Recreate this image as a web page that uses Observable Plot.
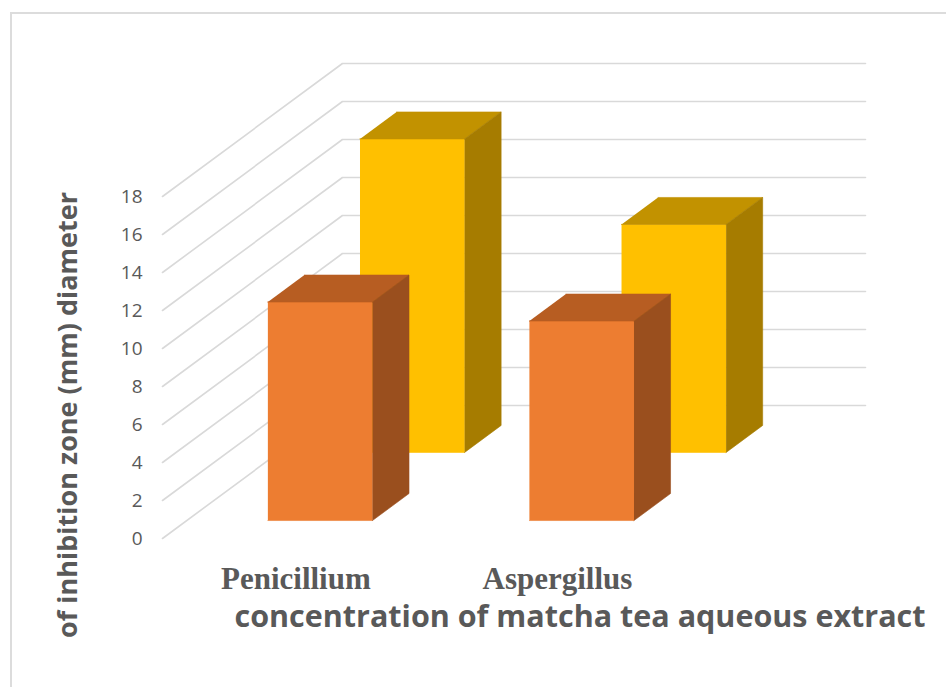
<!DOCTYPE html>
<html><head><meta charset="utf-8">
<script src="https://cdn.jsdelivr.net/npm/d3@7"></script>
<script src="https://cdn.jsdelivr.net/npm/@observablehq/plot@0.6"></script>
<style>
body{margin:0;background:#fff;}
#wrap{position:relative;width:946px;height:687px;overflow:hidden;}
#border{position:absolute;left:10px;top:12px;width:1000px;height:800px;border:2px solid #dcdcdc;box-sizing:border-box;}
#chart{position:absolute;left:0;top:0;}
</style>
</head><body>
<div id="wrap"><div id="border"></div><div id="chart"></div></div>
<script>
// ---- data ----
const categories = ["Penicillium", "Aspergillus"];
const seriesFront = [11.5, 10.5];   // orange bars (front row)
const seriesBack = [16.5, 12];      // yellow bars (back row)
const yTicks = [0, 2, 4, 6, 8, 10, 12, 14, 16, 18];
const yTitle = "of inhibition zone (mm) diameter";
const xTitle = "concentration of matcha tea aqueous extract";

// ---- 3D layout (oblique projection) ----
const DX = 0.688, DY = 7.0;          // depth offset: category units, value units
const barStart = 0.31, barWidth = 0.40;
const rows = [
  {values: seriesBack,  t0: 0.647, t1: 0.85,  colors: {front: "#FFC000", top: "#C29200", side: "#A67C00"}},
  {values: seriesFront, t0: 0.135, t1: 0.338, colors: {front: "#ED7D31", top: "#B75D22", side: "#9A4F1E"}}
];
const P = (cx, t, v) => ({x: cx + t * DX, y: v + t * DY});

// gridlines: side wall diagonal + back wall horizontal
const grid = yTicks.flatMap(v => [P(0, 0, v), P(0, 1, v), P(categories.length, 1, v)].map(p => ({...p, id: v})));

const marks = [
  Plot.line(grid, {x: "x", y: "y", z: "id", stroke: "#d9d9d9", strokeWidth: 1.6})
];
rows.forEach((row, r) => {
  const faces = {front: [], top: [], side: []};
  row.values.forEach((v, i) => {
    const x0 = i + barStart, x1 = x0 + barWidth, {t0, t1} = row;
    const id = r + "-" + i;
    faces.front.push(...[P(x0, t0, 0), P(x1, t0, 0), P(x1, t0, v), P(x0, t0, v)].map(p => ({...p, id})));
    faces.top.push(...[P(x0, t0, v), P(x1, t0, v), P(x1, t1, v), P(x0, t1, v)].map(p => ({...p, id})));
    faces.side.push(...[P(x1, t0, 0), P(x1, t1, 0), P(x1, t1, v), P(x1, t0, v)].map(p => ({...p, id})));
  });
  for (const f of ["front", "top", "side"]) {
    marks.push(Plot.line(faces[f], {x: "x", y: "y", z: "id", fill: row.colors[f], stroke: row.colors[f], strokeWidth: 0.6}));
  }
});

marks.push(
  Plot.axisY({ticks: yTicks, tickSize: 0, tickPadding: 20, label: null, fontSize: 19, fill: "#595959"}),
  Plot.text(categories, {x: (d, i) => i + barStart + barWidth / 2, y: () => 0, dy: 41, text: d => d,
    fontFamily: "Liberation Serif", fontWeight: "bold", fontSize: 31, fill: "#595959"}),
  Plot.text([xTitle], {frameAnchor: "bottom", dx: 66, dy: 88, text: d => d,
    fontFamily: "Open Sans", fontWeight: "bold", fontSize: 30.5, fill: "#595959"}),
  Plot.text([yTitle], {frameAnchor: "left", textAnchor: "middle", dx: -94, dy: 114, rotate: -90, text: d => d,
    fontFamily: "Open Sans", fontWeight: "bold", fontSize: 27, fill: "#595959"})
);

const chart = Plot.plot({
  width: 946, height: 687,
  marginLeft: 162, marginRight: 81, marginTop: 63, marginBottom: 149,
  x: {type: "linear", domain: [0, categories.length + DX], axis: null},
  y: {domain: [0, 18 + DY], axis: null},
  style: {fontFamily: "Open Sans", background: "transparent", overflow: "visible", color: "#595959"},
  marks
});
document.getElementById("chart").append(chart);
</script>
</body></html>
